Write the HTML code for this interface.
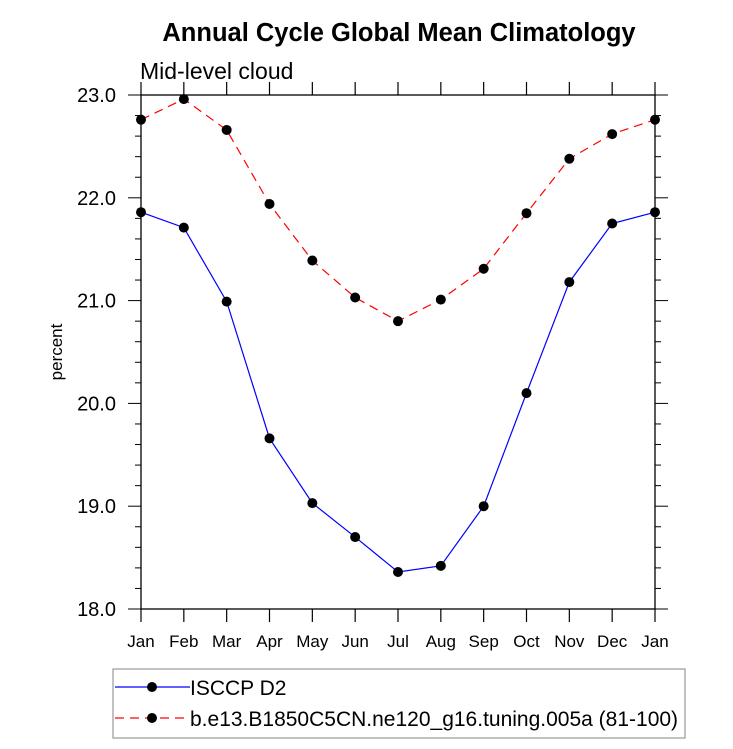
<!DOCTYPE html>
<html><head><meta charset="utf-8"><style>
body{margin:0;background:#fff;font-family:"Liberation Sans",sans-serif}
</style></head><body>
<svg width="733" height="744" xmlns="http://www.w3.org/2000/svg" font-family="Liberation Sans, sans-serif">
<text x="399" y="41" text-anchor="middle" font-size="25.5" font-weight="bold">Annual Cycle Global Mean Climatology</text>
<text x="140" y="79" font-size="23">Mid-level cloud</text>
<text transform="translate(62,352) rotate(-90)" text-anchor="middle" font-size="17">percent</text>
<g id="axes"></g>
<g id="series"></g>
<rect x="113" y="669" width="572" height="69" fill="none" stroke="#999" stroke-width="1.2"/>
<g>
<line x1="115" y1="687" x2="190" y2="687" stroke="#0000ff" stroke-width="1.2"/>
<circle cx="152" cy="687" r="5" fill="#000"/>
<text x="190" y="695" font-size="21">ISCCP D2</text></g>
<g>
<line x1="115" y1="718" x2="190" y2="718" stroke="#ff0000" stroke-width="1.2" stroke-dasharray="9,6"/>
<circle cx="152" cy="718" r="5" fill="#000"/>
<text x="190" y="726" font-size="21">b.e13.B1850C5CN.ne120_g16.tuning.005a (81-100)</text></g>
</svg>
<script>
const months=["Jan","Feb","Mar","Apr","May","Jun","Jul","Aug","Sep","Oct","Nov","Dec","Jan"];
const isccp=[21.86,21.71,20.99,19.66,19.03,18.70,18.36,18.42,19.00,20.10,21.18,21.75,21.86];
const model=[22.76,22.96,22.66,21.94,21.39,21.03,20.80,21.01,21.31,21.85,22.38,22.62,22.76];
const yTicks=[18,19,20,21,22,23];
const L=141,R=655,T=95,B=609,ymin=18,ymax=23;
const xs=i=>L+(R-L)*i/(months.length-1);
const ys=v=>B-(v-ymin)/(ymax-ymin)*(B-T);
const NS="http://www.w3.org/2000/svg";
function mk(t,a,p){const e=document.createElementNS(NS,t);for(const k in a)e.setAttribute(k,a[k]);p.appendChild(e);return e;}
const ax=document.getElementById('axes');
const fr=mk('rect',{x:L,y:T,width:R-L,height:B-T,fill:'none',stroke:'#000','stroke-width':1.3},ax);


months.forEach((m,i)=>{const x=xs(i);
mk('line',{x1:x,y1:B,x2:x,y2:B+13,stroke:'#000','stroke-width':1.2},ax);
mk('line',{x1:x,y1:T,x2:x,y2:T-13,stroke:'#000','stroke-width':1.2},ax);
const t=mk('text',{x:x,y:B+38,'text-anchor':'middle','font-size':17},ax);t.textContent=m;

});
for(let v=ymin;v<=ymax+1e-9;v+=0.2){const y=ys(v);const maj=Math.abs(v-Math.round(v))<1e-6;const len=maj?13:6;
mk('line',{x1:L,y1:y,x2:L-len,y2:y,stroke:'#000','stroke-width':1},ax);
mk('line',{x1:R,y1:y,x2:R+len,y2:y,stroke:'#000','stroke-width':1},ax);}
yTicks.forEach(v=>{const t=mk('text',{x:116,y:ys(v)+7,'text-anchor':'end','font-size':20},ax);t.textContent=v.toFixed(1);

});
const sg=document.getElementById('series');
function series(d,col,dash,name){const g=mk('g',{},sg);


mk('polyline',{points:d.map((v,i)=>xs(i)+','+ys(v)).join(' '),fill:'none',stroke:col,'stroke-width':1.2,'stroke-dasharray':dash},g);
d.forEach((v,i)=>mk('circle',{cx:xs(i),cy:ys(v),r:5,fill:'#000'},g));}
series(model,'#ff0000','9,6','series-model');
series(isccp,'#0000ff','none','series-isccp');
</script>
</body></html>
